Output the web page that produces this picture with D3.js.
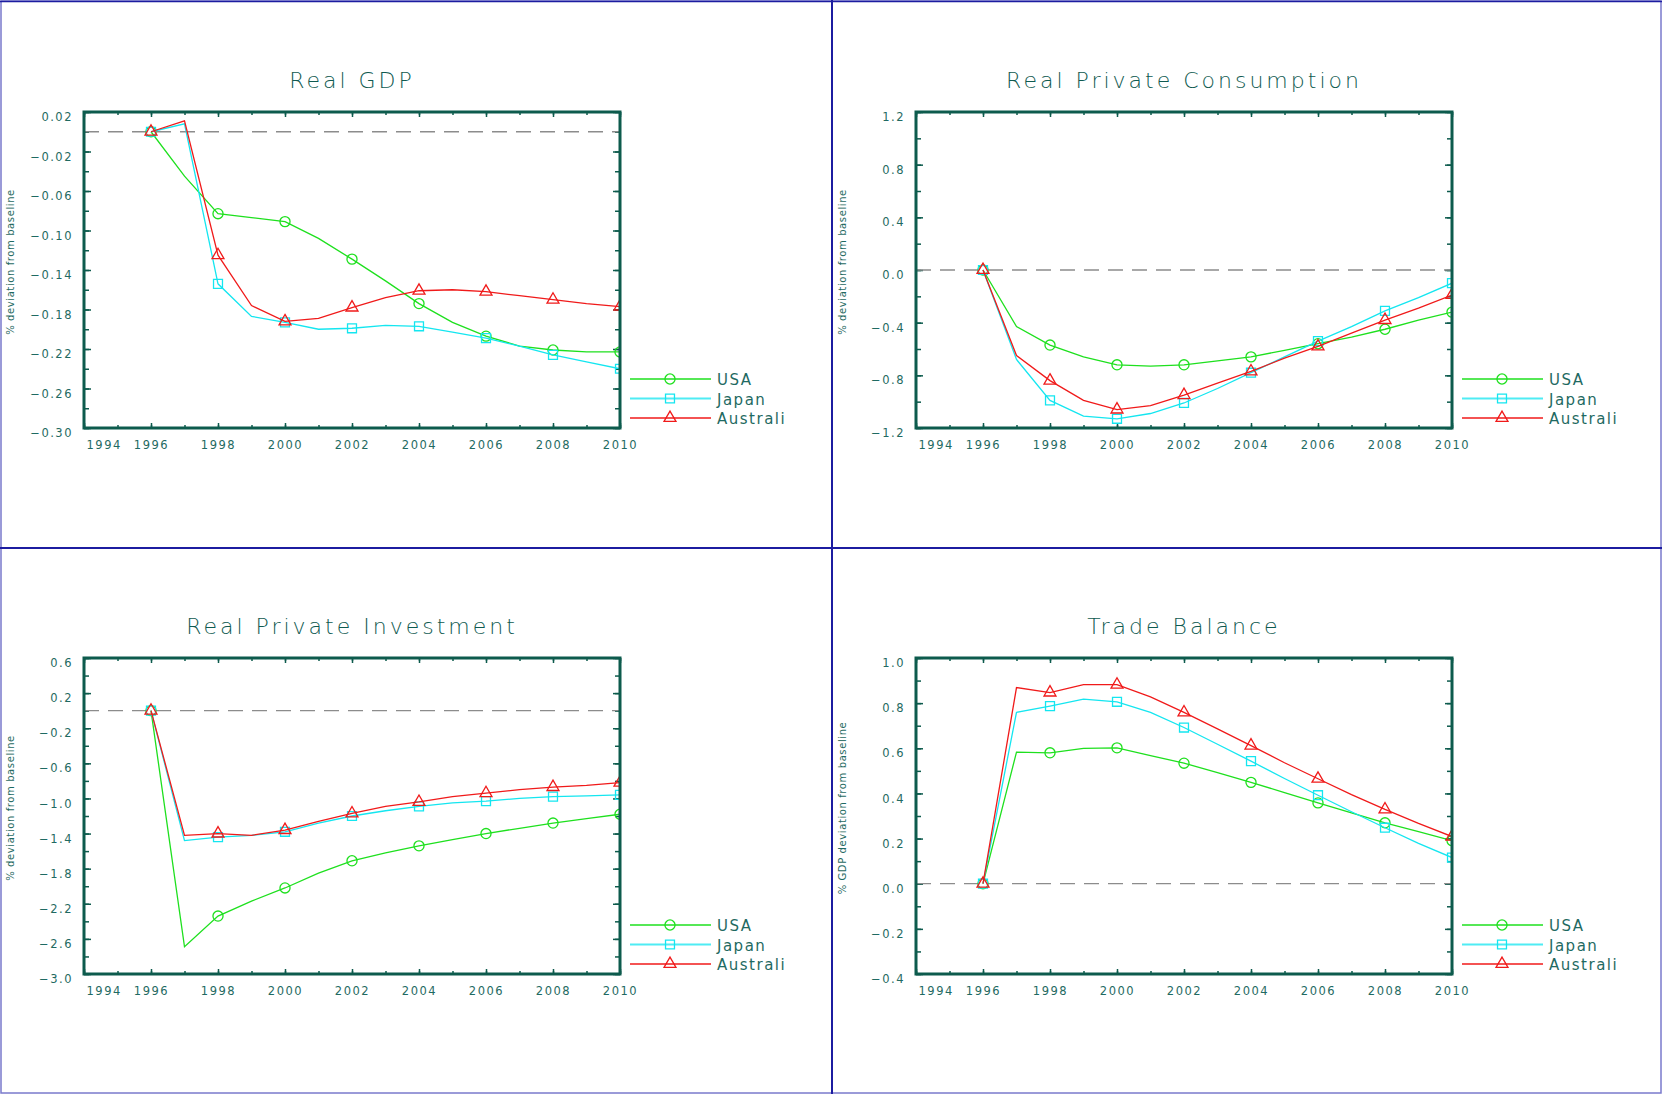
<!DOCTYPE html>
<html>
<head>
<meta charset="utf-8">
<script src="https://cdn.jsdelivr.net/npm/d3@7"></script>
<style>
  html, body { margin: 0; padding: 0; background: #ffffff; }
  svg { display: block; }
  text { font-family: "DejaVu Sans", "Liberation Sans", sans-serif; }
</style>
</head>
<body>
<svg id="chart" width="1662" height="1094"></svg>
<script>
// Years shown on every panel; lines run through each year, markers sit on even years
const years = [1996, 1997, 1998, 1999, 2000, 2001, 2002, 2003, 2004, 2005, 2006, 2007, 2008, 2009, 2010];
const xTickYears = [1994, 1996, 1998, 2000, 2002, 2004, 2006, 2008, 2010];
const countries = ["USA", "Japan", "Australi"];

// Real GDP, % deviation from baseline
const gdpUSA       = [0, -0.045, -0.083, -0.087, -0.091, -0.108, -0.129, -0.151, -0.174, -0.193, -0.207, -0.217, -0.221, -0.223, -0.223];
const gdpJapan     = [0, 0.008, -0.154, -0.187, -0.193, -0.200, -0.199, -0.196, -0.197, -0.203, -0.209, -0.217, -0.226, -0.233, -0.240];
const gdpAustralia = [0, 0.011, -0.125, -0.176, -0.192, -0.189, -0.178, -0.168, -0.161, -0.160, -0.162, -0.166, -0.170, -0.174, -0.177];
const gdpTicks     = [0.02, -0.02, -0.06, -0.10, -0.14, -0.18, -0.22, -0.26, -0.30];

// Real private consumption, % deviation from baseline
const consUSA       = [0, -0.43, -0.57, -0.66, -0.72, -0.73, -0.72, -0.69, -0.66, -0.61, -0.56, -0.51, -0.45, -0.38, -0.32];
const consJapan     = [0, -0.68, -0.99, -1.11, -1.13, -1.09, -1.01, -0.90, -0.78, -0.66, -0.54, -0.43, -0.31, -0.21, -0.10];
const consAustralia = [0, -0.65, -0.84, -0.99, -1.06, -1.03, -0.95, -0.86, -0.77, -0.67, -0.58, -0.48, -0.38, -0.29, -0.19];
const consTicks     = [1.2, 0.8, 0.4, 0.0, -0.4, -0.8, -1.2];

// Real private investment, % deviation from baseline
const invUSA       = [0, -2.69, -2.34, -2.17, -2.02, -1.85, -1.71, -1.62, -1.54, -1.47, -1.40, -1.34, -1.28, -1.23, -1.18];
const invJapan     = [0, -1.48, -1.44, -1.42, -1.38, -1.28, -1.20, -1.14, -1.09, -1.05, -1.03, -1.00, -0.98, -0.97, -0.96];
const invAustralia = [0, -1.42, -1.40, -1.42, -1.36, -1.26, -1.17, -1.09, -1.04, -0.98, -0.94, -0.90, -0.87, -0.85, -0.82];
const invTicks     = [0.6, 0.2, -0.2, -0.6, -1.0, -1.4, -1.8, -2.2, -2.6, -3.0];

// Trade balance, % of GDP deviation from baseline
const tradeUSA       = [0, 0.583, 0.580, 0.600, 0.602, 0.568, 0.534, 0.492, 0.449, 0.404, 0.358, 0.314, 0.270, 0.231, 0.191];
const tradeJapan     = [0, 0.759, 0.787, 0.818, 0.806, 0.759, 0.692, 0.618, 0.543, 0.466, 0.392, 0.319, 0.248, 0.179, 0.116];
const tradeAustralia = [0, 0.869, 0.847, 0.882, 0.882, 0.828, 0.759, 0.686, 0.612, 0.536, 0.465, 0.395, 0.329, 0.267, 0.209];
const tradeTicks     = [1.0, 0.8, 0.6, 0.4, 0.2, 0.0, -0.2, -0.4];

const panels = [
  { col: 0, row: 0, title: "Real GDP", ylabel: "% deviation from baseline",
    domain: [-0.30, 0.02], ticks: gdpTicks, minorStep: 0.02, fmt: ".2f",
    series: [gdpUSA, gdpJapan, gdpAustralia] },
  { col: 1, row: 0, title: "Real Private Consumption", ylabel: "% deviation from baseline",
    domain: [-1.2, 1.2], ticks: consTicks, minorStep: 0.2, fmt: ".1f",
    series: [consUSA, consJapan, consAustralia] },
  { col: 0, row: 1, title: "Real Private Investment", ylabel: "% deviation from baseline",
    domain: [-3.0, 0.6], ticks: invTicks, minorStep: 0.2, fmt: ".1f",
    series: [invUSA, invJapan, invAustralia] },
  { col: 1, row: 1, title: "Trade Balance", ylabel: "% GDP deviation from baseline",
    domain: [-0.4, 1.0], ticks: tradeTicks, minorStep: 0.1, fmt: ".1f",
    series: [tradeUSA, tradeJapan, tradeAustralia] }
];

const colors = ["#1ee01e", "#14e6f0", "#f01a1a"];
const markerTypes = [d3.symbolCircle, d3.symbolSquare, d3.symbolTriangle];
const markerSizes = [80, 80, 62];

const frameColor = "#0d5b4d";
const textColor = "#1f6a62";
const titleColor = "#0f5a50";
const panelW = 832, panelH = 546;
const plotLeft = 84, plotTop = 112, plotW = 536, plotH = 316;

const svg = d3.select("#chart");

// Page frame and quadrant dividers
svg.append("rect").attr("x", 1).attr("y", 1).attr("width", 1660).attr("height", 1092)
  .attr("fill", "none").attr("stroke", "#7a7acc").attr("stroke-width", 1.5);
svg.append("line").attr("x1", 0).attr("x2", 1662).attr("y1", 1.5).attr("y2", 1.5)
  .attr("stroke", "#1c1ca0").attr("stroke-width", 1.5);
svg.append("line").attr("x1", 832).attr("x2", 832).attr("y1", 0).attr("y2", 1094)
  .attr("stroke", "#1c1ca0").attr("stroke-width", 2);
svg.append("line").attr("x1", 0).attr("x2", 1662).attr("y1", 548).attr("y2", 548)
  .attr("stroke", "#1c1ca0").attr("stroke-width", 2);

const x = d3.scaleLinear().domain([1994, 2010]).range([0, plotW]);
const allYears = d3.range(1994, 2011);

panels.forEach((p, pi) => {
  const ox = p.col * panelW, oy = p.row * panelH;
  const g = svg.append("g").attr("transform", `translate(${ox + plotLeft},${oy + plotTop})`);
  const y = d3.scaleLinear().domain(p.domain).range([plotH, 0]);
  const minorTicks = d3.range(p.domain[0], p.domain[1] + p.minorStep / 2, p.minorStep);

  // Title
  svg.append("text")
    .attr("x", ox + plotLeft + plotW / 2).attr("y", oy + 88)
    .attr("text-anchor", "middle")
    .attr("fill", titleColor)
    .style("font-family", "'DejaVu Sans ExtraLight', 'DejaVu Sans', sans-serif")
    .style("font-weight", 200)
    .style("font-size", "22px")
    .style("letter-spacing", "3px")
    .text(p.title);

  // Rotated y-axis label
  svg.append("text")
    .attr("transform", `translate(${ox + 14},${oy + plotTop + plotH / 2 - 8}) rotate(-90)`)
    .attr("text-anchor", "middle")
    .attr("fill", textColor)
    .style("font-size", "10px")
    .style("letter-spacing", "0.6px")
    .text(p.ylabel);

  const styleAxis = sel => {
    sel.select(".domain").remove();
    sel.selectAll(".tick line").attr("stroke", frameColor).attr("stroke-width", 1.5);
    sel.selectAll(".tick text").attr("fill", textColor)
      .style("font-size", "11.5px").style("letter-spacing", "1.5px")
      .style("font-family", "'DejaVu Sans', sans-serif");
  };

  // Minor ticks, all four sides, pointing inwards
  g.append("g").attr("transform", `translate(0,${plotH})`)
    .call(d3.axisBottom(x).tickValues(allYears).tickSize(-3).tickFormat(""))
    .call(styleAxis);
  g.append("g")
    .call(d3.axisTop(x).tickValues(allYears).tickSize(-3).tickFormat(""))
    .call(styleAxis);
  g.append("g")
    .call(d3.axisLeft(y).tickValues(minorTicks).tickSize(-5).tickFormat(""))
    .call(styleAxis);
  g.append("g").attr("transform", `translate(${plotW},0)`)
    .call(d3.axisRight(y).tickValues(minorTicks).tickSize(-5).tickFormat(""))
    .call(styleAxis);

  // Major ticks with labels
  const bottom = g.append("g").attr("transform", `translate(0,${plotH})`)
    .call(d3.axisBottom(x).tickValues(xTickYears).tickSize(-5).tickPadding(13).tickFormat(d3.format("d")))
    .call(styleAxis);
  bottom.selectAll(".tick text").filter(d => d === 1994)
    .attr("text-anchor", "start").attr("x", 2);
  g.append("g")
    .call(d3.axisTop(x).tickValues(xTickYears).tickSize(-5).tickFormat(""))
    .call(styleAxis);
  g.append("g")
    .call(d3.axisLeft(y).tickValues(p.ticks).tickSize(-7).tickPadding(11)
      .tickFormat(v => d3.format(p.fmt)(v).replace("-", "\u2212")))
    .call(styleAxis)
    .selectAll(".tick text").attr("dy", "0.75em");
  g.append("g").attr("transform", `translate(${plotW},0)`)
    .call(d3.axisRight(y).tickValues(p.ticks).tickSize(-7).tickFormat(""))
    .call(styleAxis);

  // Clip region for data marks
  const clipId = `clip${pi}`;
  g.append("clipPath").attr("id", clipId)
    .append("rect").attr("x", 0).attr("y", 0).attr("width", plotW).attr("height", plotH);
  const plot = g.append("g").attr("clip-path", `url(#${clipId})`);

  // Baseline (zero) dashed line
  plot.append("line")
    .attr("x1", 0).attr("x2", plotW).attr("y1", y(0)).attr("y2", y(0))
    .attr("stroke", "#8c8c8c").attr("stroke-width", 1.3)
    .attr("stroke-dasharray", "15,9");

  const line = d3.line().x((d, i) => x(years[i])).y(d => y(d));

  p.series.forEach((vals, si) => {
    plot.append("path").datum(vals)
      .attr("d", line)
      .attr("fill", "none")
      .attr("stroke", colors[si])
      .attr("stroke-width", 1.3);

    const pts = vals.map((v, i) => ({ yr: years[i], v })).filter(d => d.yr % 2 === 0);
    plot.selectAll(null).data(pts).enter().append("path")
      .attr("transform", d => `translate(${x(d.yr)},${y(d.v)})`)
      .attr("d", d3.symbol().type(markerTypes[si]).size(markerSizes[si]))
      .attr("fill", "none")
      .attr("stroke", colors[si])
      .attr("stroke-width", 1.3);
  });

  // Heavy plot frame
  g.append("rect").attr("x", 0).attr("y", 0).attr("width", plotW).attr("height", plotH)
    .attr("fill", "none").attr("stroke", frameColor).attr("stroke-width", 3);

  // Legend to the right of the plot
  const lg = g.append("g");
  countries.forEach((name, si) => {
    const ly = 267 + si * 19.5;
    lg.append("line").attr("x1", 546).attr("x2", 627).attr("y1", ly).attr("y2", ly)
      .attr("stroke", colors[si]).attr("stroke-width", 2).attr("stroke-opacity", 0.75);
    lg.append("path")
      .attr("transform", `translate(586,${ly})`)
      .attr("d", d3.symbol().type(markerTypes[si]).size(markerSizes[si]))
      .attr("fill", "none").attr("stroke", colors[si]).attr("stroke-width", 1.3);
    lg.append("text").attr("x", 633).attr("y", ly + 6)
      .attr("fill", textColor)
      .style("font-size", "15px").style("letter-spacing", "1.5px")
      .text(name);
  });
});
</script>
</body>
</html>
